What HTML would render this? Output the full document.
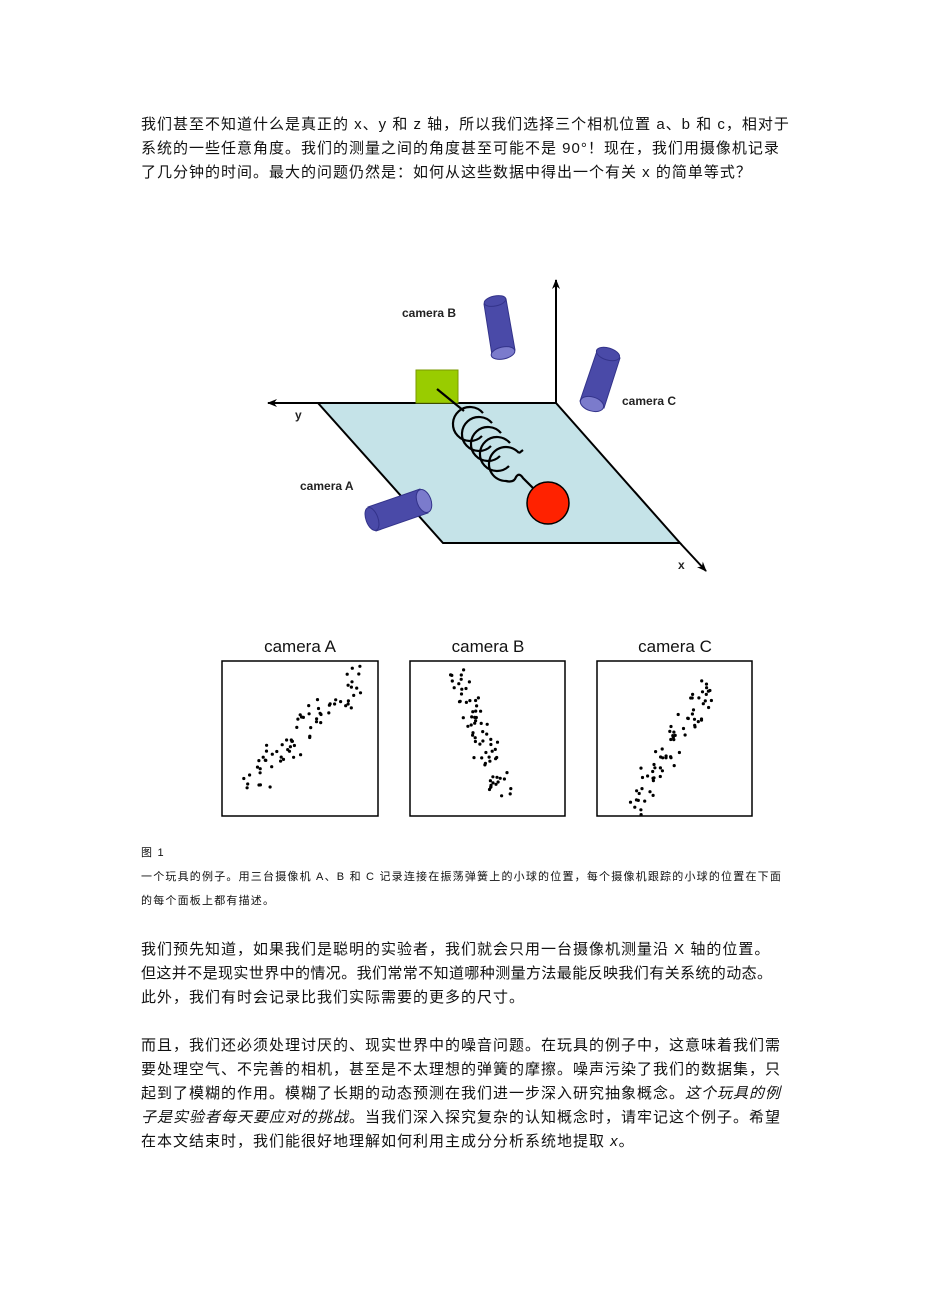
<!DOCTYPE html>
<html><head><meta charset="utf-8"><style>
body{margin:0;width:926px;height:1309px;background:#fff;position:relative;overflow:hidden;font-family:"Liberation Sans","Noto Sans CJK SC",sans-serif;color:#111}
.l{position:absolute;left:141px;font-size:15px;white-space:nowrap;line-height:18px;letter-spacing:1px}
.c{position:absolute;left:141px;font-size:11px;white-space:nowrap;line-height:14px;letter-spacing:1.2px}
svg{position:absolute;left:0;top:0}
</style></head><body>
<div class="l" style="top:116px">我们甚至不知道什么是真正的 x、y 和 z 轴，所以我们选择三个相机位置 a、b 和 c，相对于</div>
<div class="l" style="top:140px">系统的一些任意角度。我们的测量之间的角度甚至可能不是 90°！现在，我们用摄像机记录</div>
<div class="l" style="top:164px">了几分钟的时间。最大的问题仍然是：如何从这些数据中得出一个有关 x 的简单等式？</div>

<svg width="926" height="1309" xmlns="http://www.w3.org/2000/svg" id="s">
<defs><marker id="ar" markerWidth="10" markerHeight="8" refX="9" refY="4" orient="auto" markerUnits="userSpaceOnUse"><path d="M0,0 L10,4 L0,8 L3,4z" fill="#000"/></marker></defs>
<polygon points="318,403 556,403 680,543 443,543" fill="#c5e3e8" stroke="#000" stroke-width="2"/>
<line x1="556" y1="403" x2="268" y2="403" stroke="#000" stroke-width="2" marker-end="url(#ar)"/>
<line x1="556" y1="403" x2="556" y2="280" stroke="#000" stroke-width="2" marker-end="url(#ar)"/>
<line x1="680" y1="543" x2="706" y2="571" stroke="#000" stroke-width="2" marker-end="url(#ar)"/>
<rect x="416" y="370" width="42" height="33" fill="#9c0" stroke="#7a9a00" stroke-width="1"/>
<g fill="none" stroke="#000" stroke-width="2.2">
<line x1="437" y1="389" x2="464" y2="411"/>
<path d="M483,413.1 A17,17 0 1,0 482,436"/>
<path d="M492,423.1 A17,17 0 1,0 491,446"/>
<path d="M501,433.1 A17,17 0 1,0 500,456"/>
<path d="M510,443.1 A17,17 0 1,0 509,466"/>
<path d="M519,453.1 L523,450 M519,453.1 A17,17 0 1,0 506,481 Q514,483 516,477 Q519,472 523,478 L534,489"/>
</g>
<circle cx="548" cy="503" r="21" fill="#f20" stroke="#000" stroke-width="1.5"/>
<g fill="#4a4aa8" stroke="#33338a">
<path d="M484,304 L506,299 L515,350 L492,355 Z"/>
<ellipse cx="495" cy="301" rx="11" ry="5" transform="rotate(-12 495 301)"/>
<ellipse cx="503" cy="353" rx="12" ry="6" fill="#7b7bcc" transform="rotate(-12 503 353)"/>
<path d="M597,351 L620,358 L604,408 L580,401 Z"/>
<ellipse cx="608" cy="354" rx="12" ry="6" transform="rotate(17 608 354)"/>
<ellipse cx="592" cy="404" rx="12" ry="7" fill="#7b7bcc" transform="rotate(17 592 404)"/>
<path d="M368,507 L420,489 L428,513 L376,531 Z"/>
<ellipse cx="372" cy="519" rx="6" ry="12" transform="rotate(-20 372 519)"/>
<ellipse cx="424" cy="501" rx="7" ry="12" fill="#7b7bcc" transform="rotate(-20 424 501)"/>
</g>
<g font-family="Liberation Sans,sans-serif" font-weight="bold" font-size="12" fill="#222">
<text x="402" y="317">camera B</text><text x="622" y="405">camera C</text><text x="300" y="490">camera A</text>
<text x="295" y="419">y</text><text x="678" y="569">x</text></g>
<g font-family="Liberation Sans,sans-serif" font-size="17" fill="#111" text-anchor="middle">
<text x="300" y="652">camera A</text><text x="488" y="652">camera B</text><text x="675" y="652">camera C</text></g>
<g fill="none" stroke="#000" stroke-width="1.5">
<rect x="222" y="661" width="156" height="155"/><rect x="410" y="661" width="155" height="155"/><rect x="597" y="661" width="155" height="155"/></g>
<g id="dots" fill="#000"></g>
</svg>

<div class="c" style="top:846px">图 1</div>
<div class="c" style="top:870px">一个玩具的例子。用三台摄像机 A、B 和 C 记录连接在振荡弹簧上的小球的位置，每个摄像机跟踪的小球的位置在下面</div>
<div class="c" style="top:894px">的每个面板上都有描述。</div>

<div class="l" style="top:941px">我们预先知道，如果我们是聪明的实验者，我们就会只用一台摄像机测量沿 X 轴的位置。</div>
<div class="l" style="top:965px;letter-spacing:0.4px">但这并不是现实世界中的情况。我们常常不知道哪种测量方法最能反映我们有关系统的动态。</div>
<div class="l" style="top:989px">此外，我们有时会记录比我们实际需要的更多的尺寸。</div>

<div class="l" style="top:1037px">而且，我们还必须处理讨厌的、现实世界中的噪音问题。在玩具的例子中，这意味着我们需</div>
<div class="l" style="top:1061px">要处理空气、不完善的相机，甚至是不太理想的弹簧的摩擦。噪声污染了我们的数据集，只</div>
<div class="l" style="top:1085px">起到了模糊的作用。模糊了长期的动态预测在我们进一步深入研究抽象概念。<i>这个玩具的例</i></div>
<div class="l" style="top:1109px"><i>子是实验者每天要应对的挑战</i>。当我们深入探究复杂的认知概念时，请牢记这个例子。希望</div>
<div class="l" style="top:1133px">在本文结束时，我们能很好地理解如何利用主成分分析系统地提取 <i>x</i>。</div>

<script>
var g=document.getElementById('dots'),seed=7;
function r(){seed=(seed*9301+49297)%233280;return seed/233280-0.5;}
function set(x0,y0,x1,y1,n,sp){for(var i=0;i<n;i++){var t=(i+r())/n;var x=x0+(x1-x0)*t+r()*sp,y=y0+(y1-y0)*t+r()*sp;
var c=document.createElementNS('http://www.w3.org/2000/svg','circle');c.setAttribute('cx',x.toFixed(1));c.setAttribute('cy',y.toFixed(1));c.setAttribute('r','1.6');g.appendChild(c);}}
set(248,785,362,676,70,26);
set(458,675,505,800,70,24);
set(634,806,714,682,70,22);
</script>
</body></html>
